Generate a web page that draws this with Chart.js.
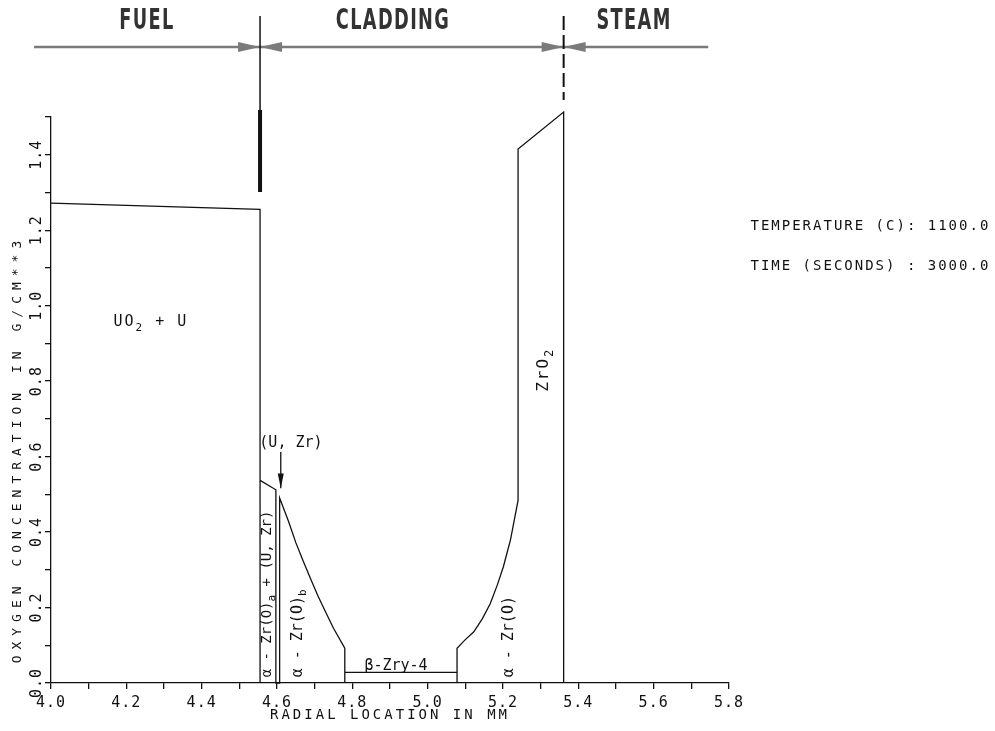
<!DOCTYPE html>
<html>
<head>
<meta charset="utf-8">
<script src="https://cdn.jsdelivr.net/npm/chart.js@4.4.0/dist/chart.umd.min.js"></script>
<style>
  html, body { margin: 0; background: #fff; }
</style>
</head>
<body>
<canvas id="chart1" width="995" height="731"></canvas>
<script>
const xTickLabels = ['4.0', '4.2', '4.4', '4.6', '4.8', '5.0', '5.2', '5.4', '5.6', '5.8']
const yTickLabels = ['0.0', '0.2', '0.4', '0.6', '0.8', '1.0', '1.2', '1.4']

// oxygen profile (mm, g/cm**3)
const radius = [4.000, 4.555, 4.555, 4.555, 4.597, 4.597, 4.607, 4.607, 4.630, 4.650, 4.670, 4.690,
                4.710, 4.730, 4.750, 4.780, 4.780, 4.780, 5.078, 5.078, 5.078, 5.100, 5.122, 5.145,
                5.166, 5.185, 5.201, 5.220, 5.240, 5.240, 5.361, 5.361]
const oxygen = [1.272, 1.255, 0.000, 0.537, 0.512, 0.000, 0.000, 0.490, 0.430, 0.372, 0.322, 0.274,
                0.228, 0.186, 0.145, 0.092, 0.000, 0.028, 0.028, 0.000, 0.092, 0.115, 0.135, 0.170,
                0.210, 0.260, 0.308, 0.380, 0.484, 1.415, 1.513, 0.000]

// fuel / cladding / steam
const regionNames = ['FUEL', 'CLADDING', 'STEAM']
const regionCentres = [4.255, 4.908, 5.548]
const boundaries = [4.555, 5.361]

const infoLines = ['TEMPERATURE (C): 1100.0', 'TIME (SECONDS) : 3000.0']

const MONO = '"DejaVu Sans Mono", monospace'
const COND = '"DejaVu Sans Condensed", "DejaVu Sans", sans-serif'
const INK = '#111'

// text with subscripts: parts = [[text, isSub], ...]
function richText(ctx, parts, x, y, angle, size, align) {
  ctx.save()
  ctx.translate(x, y)
  ctx.rotate(angle)
  ctx.fillStyle = INK
  ctx.textBaseline = 'alphabetic'
  ctx.textAlign = 'left'
  let total = 0
  parts.forEach(p => {
    ctx.font = (p[1] ? Math.round(size * 0.75) : size) + 'px ' + MONO
    total += ctx.measureText(p[0]).width
  })
  let cx = align === 'left' ? 0 : -total / 2
  parts.forEach(p => {
    ctx.font = (p[1] ? Math.round(size * 0.75) : size) + 'px ' + MONO
    ctx.fillText(p[0], cx, p[1] ? size * 0.3 : 0)
    cx += ctx.measureText(p[0]).width
  })
  ctx.restore()
}

const notes = {
  id: 'notes',
  beforeDraw(chart) {
    chart.ctx.letterSpacing = '1px'
  },
  afterDraw(chart) {
    const ctx = chart.ctx
    const xs = chart.scales.x
    const ys = chart.scales.y
    const X = v => xs.getPixelForValue(v)
    const Y = v => ys.getPixelForValue(v)

    // header band
    ctx.save()
    const hy = 47
    ctx.strokeStyle = '#7a7a7a'
    ctx.fillStyle = '#7a7a7a'
    ctx.lineWidth = 2.5
    ctx.beginPath()
    ctx.moveTo(X(3.955), hy)
    ctx.lineTo(X(5.745), hy)
    ctx.stroke()
    boundaries.forEach(b => {
      const bx = X(b)
      ;[-1, 1].forEach(d => {
        ctx.beginPath()
        ctx.moveTo(bx, hy)
        ctx.lineTo(bx + d * 22, hy - 5)
        ctx.lineTo(bx + d * 22, hy + 5)
        ctx.closePath()
        ctx.fill()
      })
    })
    ctx.strokeStyle = INK
    ctx.lineWidth = 1.5
    ctx.beginPath()
    ctx.moveTo(X(boundaries[0]), 16)
    ctx.lineTo(X(boundaries[0]), 110)
    ctx.stroke()
    ctx.lineWidth = 4
    ctx.beginPath()
    ctx.moveTo(X(boundaries[0]), 110)
    ctx.lineTo(X(boundaries[0]), 192)
    ctx.stroke()
    ctx.lineWidth = 2
    ctx.setLineDash([14, 5])
    ctx.beginPath()
    ctx.moveTo(X(boundaries[1]), 16)
    ctx.lineTo(X(boundaries[1]), 100)
    ctx.stroke()
    ctx.setLineDash([])

    // tall narrow plotter lettering
    ctx.fillStyle = '#333'
    ctx.font = 'bold 29px ' + COND
    ctx.letterSpacing = '2px'
    ctx.textAlign = 'center'
    ctx.textBaseline = 'middle'
    regionNames.forEach((n, i) => {
      ctx.save()
      ctx.translate(X(regionCentres[i]), 21)
      ctx.scale(0.68, 1)
      ctx.fillText(n, 0, 0)
      ctx.restore()
    })
    ctx.restore()

    // axis titles
    ctx.save()
    ctx.letterSpacing = '3px'
    richText(ctx, [['RADIAL LOCATION IN MM', 0]], X(4.9), 719, 0, 14)
    ctx.letterSpacing = '6px'
    richText(ctx, [['OXYGEN CONCENTRATION IN G/CM**3', 0]], 21, Y(0.62), -Math.PI / 2, 13)
    ctx.restore()

    // phase labels
    ctx.save()
    ctx.letterSpacing = '2px'
    richText(ctx, [['UO', 0], ['2', 1], [' + U', 0]], X(4.265), Y(0.945), 0, 15)
    ctx.letterSpacing = '0px'
    richText(ctx, [['(U, Zr)', 0]], X(4.637), Y(0.625), 0, 15)
    richText(ctx, [['β-Zry-4', 0]], X(4.916), Y(0.035), 0, 15)
    const up = -Math.PI / 2
    richText(ctx, [['α - Zr(O)', 0], ['a', 1], [' + (U, Zr)', 0]], X(4.571) + 5, Y(0.015), up, 14, 'left')
    richText(ctx, [['α - Zr(O)', 0], ['b', 1]], X(4.653) + 5, Y(0.015), up, 15, 'left')
    richText(ctx, [['α - Zr(O)', 0]], X(5.214) + 5, Y(0.015), up, 15, 'left')
    ctx.letterSpacing = '2px'
    richText(ctx, [['ZrO', 0], ['2', 1]], X(5.303) + 6, Y(0.83), up, 16)

    // (U, Zr) pointer
    ctx.strokeStyle = INK
    ctx.fillStyle = INK
    ctx.lineWidth = 1.3
    const ax = X(4.610)
    ctx.beginPath()
    ctx.moveTo(ax, Y(0.612))
    ctx.lineTo(ax, Y(0.516))
    ctx.stroke()
    ctx.beginPath()
    ctx.moveTo(ax, Y(0.516))
    ctx.lineTo(ax - 3, Y(0.555))
    ctx.lineTo(ax + 3, Y(0.555))
    ctx.closePath()
    ctx.fill()

    // run info
    ctx.letterSpacing = '2px'
    infoLines.forEach((t, i) => richText(ctx, [[t, 0]], X(5.857), Y(1.2) + i * 40, 0, 14, 'left'))
    ctx.restore()
  }
}

const ctx1 = document.getElementById('chart1').getContext('2d')
const chart1 = new Chart(ctx1, {
  type: 'scatter',
  data: {
    datasets: [{
      data: radius.map((r, i) => ({ x: r, y: oxygen[i] })),
      showLine: true,
      borderColor: INK,
      borderWidth: 1.3,
      pointRadius: 0,
      tension: 0,
      fill: false,
      clip: false
    }]
  },
  options: {
    responsive: false,
    animation: false,
    events: [],
    layout: { padding: { top: 117, right: 266, left: 0, bottom: 0 } },
    plugins: { legend: { display: false }, tooltip: { enabled: false } },
    scales: {
      x: {
        type: 'linear',
        min: 4.0,
        max: 5.8,
        afterFit(s) { s.height = 48 },
        ticks: {
          stepSize: 0.1,
          autoSkip: false,
          maxRotation: 0,
          color: INK,
          padding: 5,
          font: { family: MONO, size: 15 },
          callback(v) { const t = v.toFixed(1); return xTickLabels.includes(t) ? t : '' }
        },
        grid: { drawOnChartArea: false, color: INK, lineWidth: 1.3, tickLength: 6 },
        border: { color: INK, width: 1.3 }
      },
      y: {
        min: 0,
        max: 1.5,
        afterFit(s) { s.width = 51 },
        ticks: {
          stepSize: 0.1,
          autoSkip: false,
          minRotation: 90,
          maxRotation: 90,
          crossAlign: 'center',
          color: INK,
          padding: -6,
          font: { family: MONO, size: 15 },
          callback(v) { const t = v.toFixed(1); return yTickLabels.includes(t) ? t : '' }
        },
        grid: { drawOnChartArea: false, color: INK, lineWidth: 1.3, tickLength: 6 },
        border: { color: INK, width: 1.3 }
      }
    }
  },
  plugins: [notes]
})
</script>
</body>
</html>
